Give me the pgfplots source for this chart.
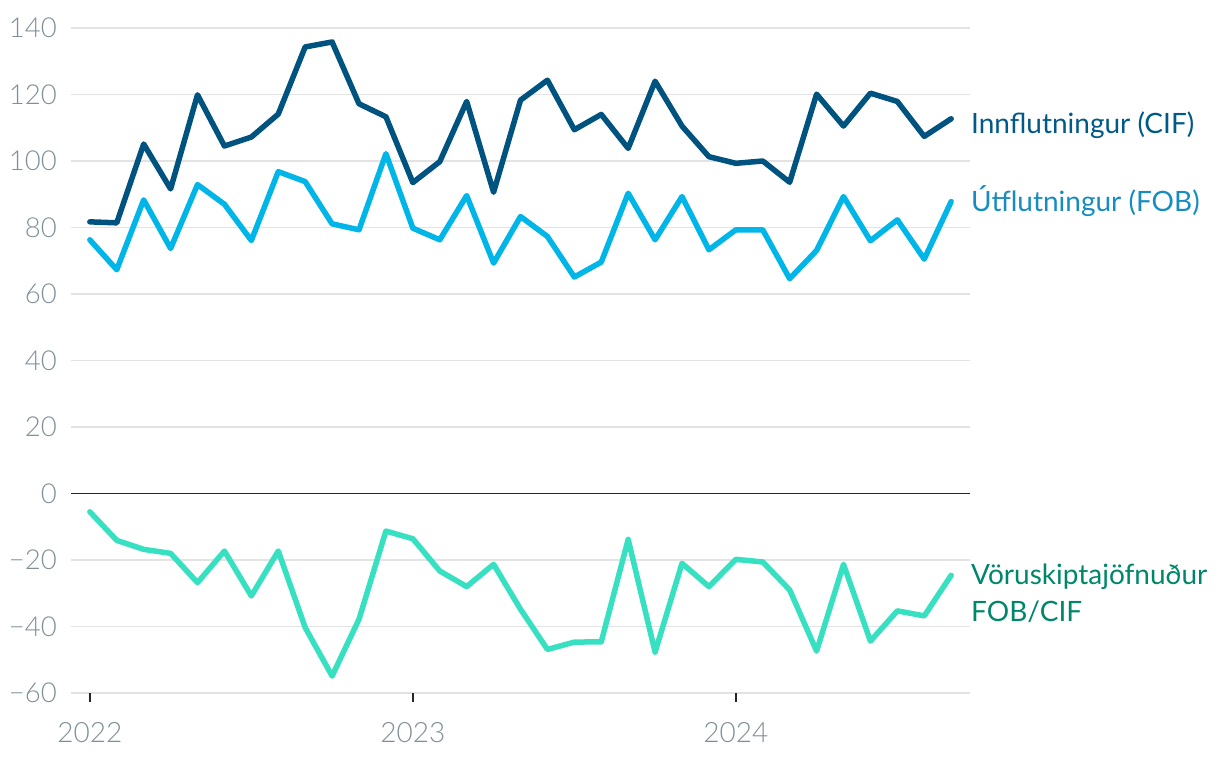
\documentclass[border=0pt]{standalone}
\usepackage{pgfplots}
\pgfplotsset{compat=1.18}
\usepackage{fontspec}
\setmainfont{Lato}
\newfontfamily\latolight{Lato Light}
\definecolor{imp}{HTML}{00527F}
\definecolor{exp}{HTML}{00B5E8}
\definecolor{bal}{HTML}{38E0C2}
\definecolor{imptxt}{HTML}{005A87}
\definecolor{exptxt}{HTML}{168CC0}
\definecolor{baltxt}{HTML}{00876B}
\definecolor{ticktxt}{HTML}{7F9099}
\definecolor{gridc}{HTML}{E3E3E3}
\begin{document}
\begin{tikzpicture}[x=1pt,y=1pt]
\path[use as bounding box] (0,0) rectangle (1220,760);
\begin{axis}[
  at={(71pt,67pt)}, anchor=south west,
  scale only axis, width=899pt, height=665pt,
  xmin=-0.7, xmax=32.7, ymin=-60, ymax=140,
  axis line style={draw=none},
  clip=false,
  ytick={-60,-40,-20,0,20,40,60,80,100,120,140},
  yticklabels={−60,−40,−20,0,20,40,60,80,100,120,140},
  xtick={0,12,24},
  xticklabels={2022,2023,2024},
  xtick pos=lower,
  ymajorgrids, grid style={gridc, line width=1.5pt},
  major tick length=9pt,
  tick align=outside,
  y tick style={draw=none},
  x tick style={black!85, line width=1.8pt},
  yticklabel style={font=\fontsize{27.5}{32}\selectfont\latolight, text=ticktxt, inner sep=0pt, anchor=east, xshift=-5pt},
  xticklabel style={font=\fontsize{28}{32}\selectfont\latolight, text=ticktxt, inner sep=0pt, anchor=base, yshift=-40pt},
  every axis plot/.append style={line width=5.5pt, line join=round, line cap=round, mark=none},
]
\draw[black!85, line width=1.8pt] (axis cs:-0.7,0) -- (axis cs:32.7,0);
\addplot[imp] coordinates {
(0,81.7)(1,81.4)(2,105.1)(3,91.6)(4,119.9)(5,104.5)(6,107.2)(7,114.1)(8,134.3)(9,135.8)
(10,117.2)(11,113.3)(12,93.5)(13,99.8)(14,117.9)(15,90.6)(16,118.3)(17,124.3)(18,109.4)(19,114.0)
(20,103.8)(21,124.0)(22,110.5)(23,101.3)(24,99.3)(25,100.0)(26,93.6)(27,120.1)(28,110.5)(29,120.4)
(30,117.9)(31,107.4)(32,112.7)};
\addplot[exp] coordinates {
(0,76.3)(1,67.3)(2,88.3)(3,73.7)(4,92.9)(5,87.0)(6,76.1)(7,96.8)(8,93.8)(9,81.1)
(10,79.3)(11,102.2)(12,79.8)(13,76.3)(14,89.6)(15,69.3)(16,83.3)(17,77.3)(18,65.1)(19,69.6)
(20,90.3)(21,76.3)(22,89.3)(23,73.3)(24,79.3)(25,79.3)(26,64.6)(27,73.1)(28,89.3)(29,76.0)
(30,82.3)(31,70.5)(32,87.8)};
\addplot[bal] coordinates {
(0,-5.5)(1,-14.1)(2,-16.8)(3,-18.0)(4,-26.8)(5,-17.3)(6,-30.8)(7,-17.3)(8,-40.3)(9,-54.9)
(10,-37.8)(11,-11.3)(12,-13.6)(13,-23.3)(14,-28.0)(15,-21.3)(16,-34.8)(17,-46.9)(18,-44.7)(19,-44.6)
(20,-13.8)(21,-47.7)(22,-21.0)(23,-28.0)(24,-19.8)(25,-20.6)(26,-29.0)(27,-47.4)(28,-21.3)(29,-44.4)
(30,-35.3)(31,-36.8)(32,-24.6)};
\node[anchor=base west, inner sep=0pt, xshift=1pt, text=imptxt, font=\fontsize{28}{32}\selectfont] at (axis cs:32.7,108.35) {Innflutningur (CIF)};
\node[anchor=base west, inner sep=0pt, xshift=1pt, text=exptxt, font=\fontsize{28}{32}\selectfont] at (axis cs:32.7,84.8) {Útflutningur (FOB)};
\node[anchor=base west, inner sep=0pt, xshift=1pt, text=baltxt, font=\fontsize{28}{32}\selectfont] at (axis cs:32.7,-27.3) {Vöruskiptajöfnuður};
\node[anchor=base west, inner sep=0pt, xshift=1pt, text=baltxt, font=\fontsize{28}{32}\selectfont] at (axis cs:32.7,-38.4) {FOB/CIF};
\end{axis}
\end{tikzpicture}
\end{document}
